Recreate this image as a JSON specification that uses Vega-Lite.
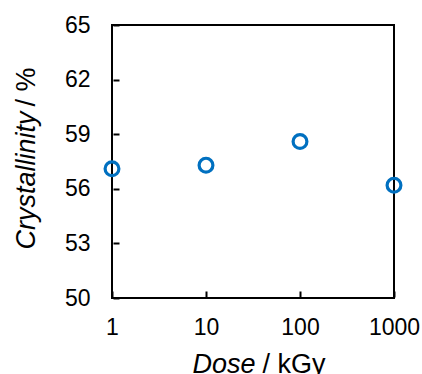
{
  "$schema": "https://vega.github.io/schema/vega-lite/v6.json",
  "width": 282,
  "height": 273,
  "autosize": "none",
  "padding": {"left": 112, "top": 25, "right": 28, "bottom": 76},
  "background": "white",
  "config": {
    "view": {"stroke": "black", "strokeWidth": 2},
    "font": "Liberation Sans",
    "axis": {"labelFont": "Liberation Sans", "titleFont": "Liberation Sans", "labelColor": "black", "titleColor": "black", "grid": false, "domain": false, "tickColor": "black", "tickWidth": 2}
  },
  "data": {"values": [
    {"dose": 1, "cryst": 57.1},
    {"dose": 10, "cryst": 57.3},
    {"dose": 100, "cryst": 58.6},
    {"dose": 1000, "cryst": 56.2}
  ]},
  "resolve": {"axis": {"x": "independent", "y": "independent"}},
  "layer": [
    {
      "mark": {"type": "point", "shape": "circle", "filled": false, "stroke": "#0070C0", "strokeWidth": 3.2, "size": 190, "opacity": 1},
      "encoding": {
        "x": {"field": "dose", "type": "quantitative", "scale": {"type": "log", "domain": [1, 1000]},
          "axis": {"orient": "bottom", "values": [1, 10, 100, 1000], "format": "d", "ticks": false, "tickSize": 0, "labelPadding": 18, "labelFontSize": 23, "labelFlush": false, "title": null}},
        "y": {"field": "cryst", "type": "quantitative", "scale": {"domain": [50, 65], "nice": false, "zero": false},
          "axis": {"orient": "left", "values": [50, 53, 56, 59, 62, 65], "ticks": false, "tickSize": 0, "labelPadding": 22, "labelFontSize": 23, "labelFlush": false, "title": null}}
      }
    },
    {
      "mark": {"type": "point", "opacity": 0},
      "encoding": {
        "x": {"field": "dose", "type": "quantitative",
          "axis": {"orient": "bottom", "offset": -7, "values": [1, 10, 100, 1000], "labels": false, "ticks": true, "tickSize": 6, "domain": false, "title": "Dose", "titleFontStyle": "italic", "titleFontWeight": "normal", "titleFontSize": 27, "titleAlign": "right", "titleBaseline": "alphabetic", "titleAnchor": null, "titleX": 143, "titleY": 81}},
        "y": {"field": "cryst", "type": "quantitative",
          "axis": {"orient": "left", "offset": -7, "values": [50, 53, 56, 59, 62, 65], "labels": false, "ticks": true, "tickSize": 6, "domain": false, "title": "Crystallinity", "titleFontStyle": "italic", "titleFontWeight": "normal", "titleFontSize": 27, "titleAngle": -90, "titleAlign": "left", "titleBaseline": "alphabetic", "titleAnchor": null, "titleX": -85, "titleY": 224}}
      }
    },
    {
      "mark": {"type": "point", "opacity": 0},
      "encoding": {
        "x": {"field": "dose", "type": "quantitative",
          "axis": {"orient": "bottom", "labels": false, "ticks": false, "domain": false, "title": "/ kGy", "titleFontWeight": "normal", "titleFontSize": 27, "titleAlign": "left", "titleBaseline": "alphabetic", "titleAnchor": null, "titleX": 150, "titleY": 74}},
        "y": {"field": "cryst", "type": "quantitative",
          "axis": {"orient": "left", "labels": false, "ticks": false, "domain": false, "title": "/ %", "titleFontWeight": "normal", "titleFontSize": 27, "titleAngle": -90, "titleAlign": "left", "titleBaseline": "alphabetic", "titleAnchor": null, "titleX": -78, "titleY": 81}}
      }
    }
  ]
}
